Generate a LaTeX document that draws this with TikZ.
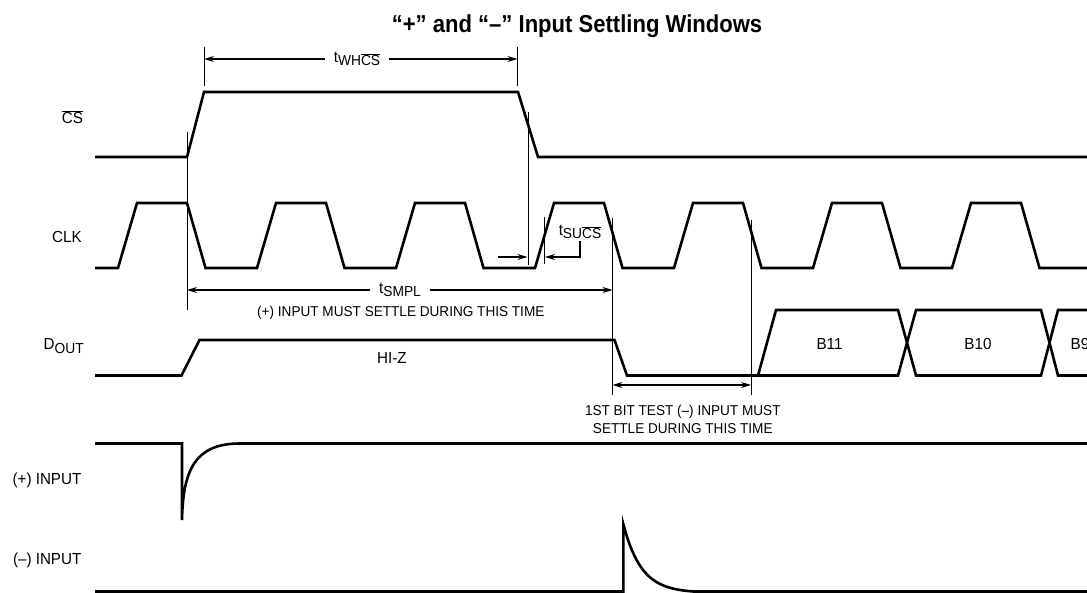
\documentclass[tikz,border=0pt]{standalone}
\usepackage{fontspec}
\setmainfont{Liberation Sans}[FakeStretch=0.95]
\newfontfamily\titlefont{Liberation Sans}[FakeStretch=0.9]
\usetikzlibrary{arrows.meta, positioning}
\tikzstyle{wave} = [line width=2.6pt]
\tikzstyle{marker} = [line width=1pt]
\tikzstyle{arrow} = [line width=1.2pt, -{Stealth[length=10pt,width=6pt]}]
\tikzstyle{dimarrow} = [line width=1.2pt, {Stealth[length=10pt,width=6pt]}-{Stealth[length=10pt,width=6pt]}]
\tikzstyle{sig} = [anchor=base east, inner sep=0pt, font=\fontsize{16}{19}\selectfont]
\tikzstyle{bit} = [anchor=base, inner sep=0pt, font=\fontsize{16}{19}\selectfont]
\tikzstyle{note} = [anchor=base, inner sep=0pt, font=\fontsize{14.3}{17.7}\selectfont]
\tikzstyle{tlabel} = [inner xsep=9pt, inner ysep=1pt, font=\fontsize{16}{19}\selectfont]
\newcommand{\ovl}[1]{$\overline{\hbox{#1}}$}
\newcommand{\lowsub}[1]{\raisebox{-0.4ex}{\fontsize{14.5}{17}\selectfont #1}}

\begin{document}
\begin{tikzpicture}[x=1pt, y=-1pt]
	\useasboundingbox (0,0) rectangle (1087,593);
	
	\node (title) [anchor=base, inner sep=0pt, font=\titlefont\bfseries\fontsize{24.5}{28}\selectfont] at (577,32.3) {“+” and “–” Input Settling Windows};
	
	% signal names
	\node (cs) [sig] at (83.3,123.3) {\ovl{CS}};
	\node (clk) [sig] at (82,242.7) {CLK};
	\node (dout) [sig] at (84,350) {D\lowsub{OUT}};
	\node (pin) [sig] at (81.6,484.7) {(+) INPUT};
	\node (nin) [sig] at (81.6,564.7) {(–) INPUT};
	
	% waveforms
	\draw [wave] (95,157) -- (187,157) -- (204,92) -- (518,92) -- (538,157) -- (1090,157);
	\draw [wave] (95,268) \foreach \k in {0,...,6} {
		-- ({118+139*\k},268) -- ({137+139*\k},203) -- ({187+139*\k},203) -- ({205.5+139*\k},268)} -- (1090,268);
	\draw [wave] (95,375.5) -- (181.5,375.5) -- (199.5,340) -- (614.5,340) -- (627,375.5) -- (898,375.5)
		-- (916,310) -- (1041,310) -- (1058,375.5) -- (1090,375.5);
	\draw [wave] (758,375.5) -- (776,310) -- (898,310) -- (916,375.5) -- (1041,375.5) -- (1058,310) -- (1090,310);
	\draw [wave] (95,443.5) -- (182,443.5) -- (182,520) .. controls (183,470) and (195,443.5) .. (240,443.5) -- (1090,443.5);
	\draw [wave] (95,591.5) -- (623.3,591.5) -- (623.3,524)
		-- plot[domain=0:70, samples=40] ({623.3+\x},{524+67.5*(1-exp(-\x/18))/(1-exp(-70/18))}) -- (1090,591.5);
	
	\node (hiz) [bit] at (392,364) {HI-Z};
	\node (b11) [bit] at (829.5,350) {B11};
	\node (b10) [bit] at (978,350) {B10};
	\node (b9) [bit] at (1080,350) {B9};
	
	% timing marks
	\draw [marker] (187,132) -- (187,310);
	\draw [marker] (204,47) -- (204,86);
	\draw [marker] (517.5,47) -- (517.5,86);
	\draw [marker] (528,112) -- (528,265);
	\draw [marker] (544.5,217) -- (544.5,264);
	\draw [marker] (612.5,218) -- (612.5,395);
	\draw [marker] (751,220) -- (751,395);
	
	\coordinate (whcsL) at (204,59);
	\coordinate (whcsR) at (517.5,59);
	\coordinate (smplL) at (187,290);
	\coordinate (smplR) at (612.5,290);
	\coordinate (sucsA) at (498,257);
	\coordinate (sucsB) at (527.5,257);
	\coordinate (sucsC) at (545,257);
	\coordinate (bitL) at (612.5,385);
	\coordinate (bitR) at (751,385);
	
	\node (twhcs) [tlabel] at (357,59) {t\lowsub{WH\ovl{CS}}};
	\node (tsmpl) [tlabel] at (400,290) {t\lowsub{SMPL}};
	\node (tsucs) [tlabel, inner ysep=2pt] at (580,232) {t\lowsub{SU\ovl{CS}}};
	
	\draw [arrow] (twhcs) -- (whcsL);
	\draw [arrow] (twhcs) -- (whcsR);
	\draw [arrow] (tsmpl) -- (smplL);
	\draw [arrow] (tsmpl) -- (smplR);
	\draw [arrow] (sucsA) -- (sucsB);
	\draw [arrow] (tsucs.south) |- (sucsC);
	\draw [dimarrow] (bitL) -- (bitR);
	
	\node (smplnote) [note] at (400.8,316.7) {(+) INPUT MUST SETTLE DURING THIS TIME};
	\node (bitnote) [note] at (682.8,415) {1ST BIT TEST (–) INPUT MUST};
	\node (bitnote2) [note] at (682.8,433) {SETTLE DURING THIS TIME};
\end{tikzpicture}
\end{document}
